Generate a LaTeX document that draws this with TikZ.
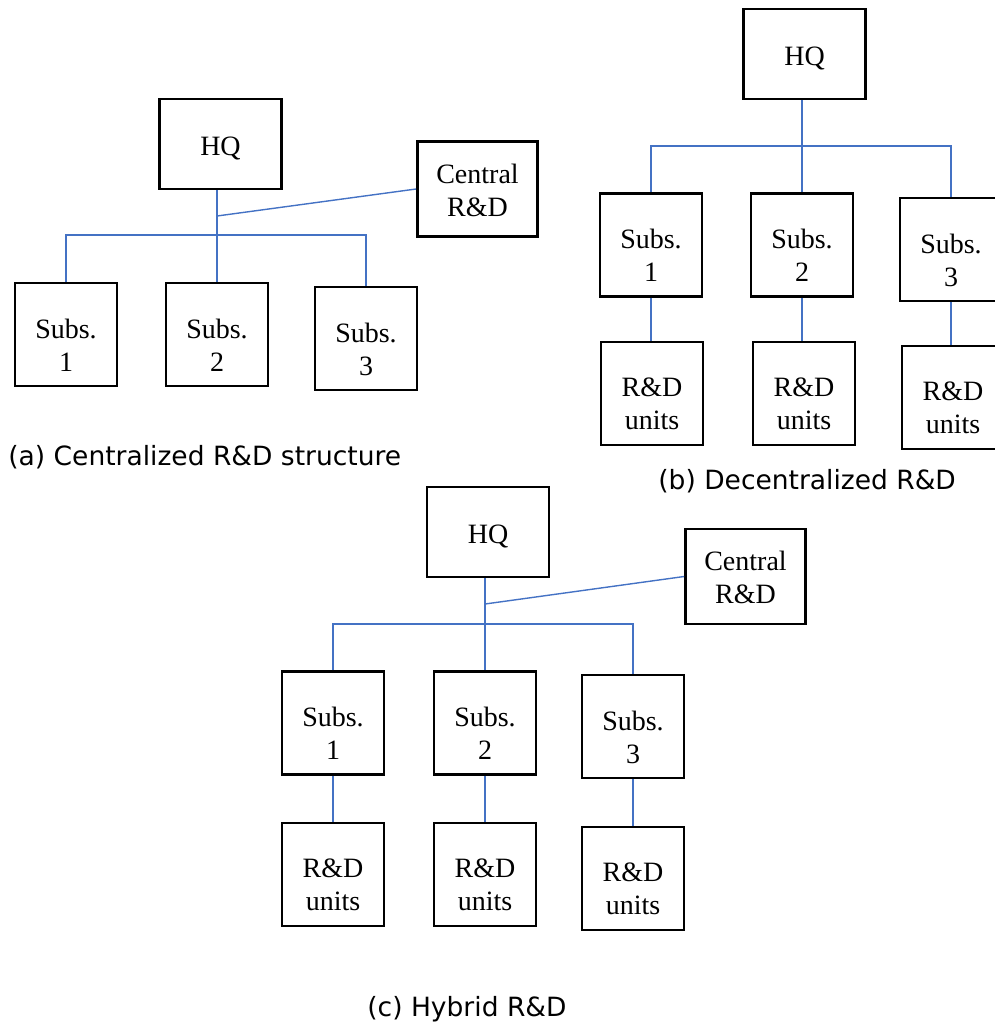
\documentclass[tikz,border=0pt]{standalone}
\usepackage{fontspec}
\setmainfont{Liberation Serif}
\newfontfamily\capfont{DejaVu Sans}
\usetikzlibrary{calc}
\definecolor{linkblue}{HTML}{4472C4}
\newcommand{\boxtxt}[2][0pt]{\raisebox{#1}[\height][\depth]{\begin{tabular}{@{}c@{}}#2\end{tabular}}}

\begin{document}
\begin{tikzpicture}[x=0.5pt, y=-0.5pt,
    box/.style={draw, line width=1.4pt, inner sep=0pt, font=\fontsize{14}{16.5}\selectfont},
    hqbox/.style={box, minimum width=61pt, minimum height=45pt},
    rdbox/.style={box, minimum width=60pt, minimum height=47.5pt},
    subbox/.style={box, minimum width=51pt, minimum height=51.5pt},
    link/.style={draw=linkblue, line width=0.7pt},
    captxt/.style={anchor=base west, inner sep=0pt, font=\capfont\fontsize{13.25}{16}\selectfont}]
    \useasboundingbox (0,0) rectangle (995,1023);

    % (a) centralized
    \node[hqbox] (aHQ) at (220.5,144) {\boxtxt[-2.6pt]{HQ}};
    \node[rdbox] (aCRD) at (477.5,189) {\boxtxt[-2.1pt]{Central\\R\&D}};
    \node[subbox] (aS1) at (66,334.5) {\boxtxt[-6.8pt]{Subs.\\1}};
    \node[subbox] (aS2) at (217,334.5) {\boxtxt[-6.8pt]{Subs.\\2}};
    \node[subbox] (aS3) at (366,338.5) {\boxtxt[-6.8pt]{Subs.\\3}};
    \coordinate (aJ) at (217,216);
    \coordinate (aBus) at (217,235);
    \draw[link] (aS2.north |- aHQ.south) -- (aS2.north);
    \draw[link] (aS1.north) |- (aBus) -| (aS3.north);
    \draw[link] (aJ) -- (aCRD.west);
    \node[captxt] (aCap) at (8,465) {(a) Centralized R\&D structure};

    % (b) decentralized
    \node[hqbox] (bHQ) at (804.5,54) {\boxtxt[-2.6pt]{HQ}};
    \node[subbox] (bS1) at (651,245) {\boxtxt[-6.8pt]{Subs.\\1}};
    \node[subbox] (bS2) at (802,245) {\boxtxt[-6.8pt]{Subs.\\2}};
    \node[subbox] (bS3) at (951,249.5) {\boxtxt[-6.8pt]{Subs.\\3}};
    \node[subbox] (bU1) at (652,393.5) {\boxtxt[-6.3pt]{R\&D\\units}};
    \node[subbox] (bU2) at (804,393.5) {\boxtxt[-6.3pt]{R\&D\\units}};
    \node[subbox] (bU3) at (953,397.5) {\boxtxt[-6.3pt]{R\&D\\units}};
    \coordinate (bBus) at (802,146);
    \draw[link] (bS2.north |- bHQ.south) -- (bS2.north);
    \draw[link] (bS1.north) |- (bBus) -| (bS3.north);
    \foreach \i in {1,2,3}
        \draw[link] (bS\i.south) -- (bS\i.south |- bU\i.north);
    \node[captxt] (bCap) at (658,489) {(b) Decentralized R\&D};

    % (c) hybrid
    \node[hqbox] (cHQ) at (488,532) {\boxtxt[-2.6pt]{HQ}};
    \node[rdbox] (cCRD) at (745.5,576.5) {\boxtxt[-2.1pt]{Central\\R\&D}};
    \node[subbox] (cS1) at (333,723) {\boxtxt[-6.8pt]{Subs.\\1}};
    \node[subbox] (cS2) at (485,723) {\boxtxt[-6.8pt]{Subs.\\2}};
    \node[subbox] (cS3) at (633,726.5) {\boxtxt[-6.8pt]{Subs.\\3}};
    \node[subbox] (cU1) at (333,874.5) {\boxtxt[-6.3pt]{R\&D\\units}};
    \node[subbox] (cU2) at (485,874.5) {\boxtxt[-6.3pt]{R\&D\\units}};
    \node[subbox] (cU3) at (633,878.5) {\boxtxt[-6.3pt]{R\&D\\units}};
    \coordinate (cJ) at (485,604);
    \coordinate (cBus) at (485,624);
    \draw[link] (cS2.north |- cHQ.south) -- (cS2.north);
    \draw[link] (cS1.north) |- (cBus) -| (cS3.north);
    \draw[link] (cJ) -- (cCRD.west);
    \foreach \i in {1,2,3}
        \draw[link] (cS\i.south) -- (cU\i.north);
    \node[captxt] (cCap) at (367,1016) {(c) Hybrid R\&D};
\end{tikzpicture}
\end{document}
